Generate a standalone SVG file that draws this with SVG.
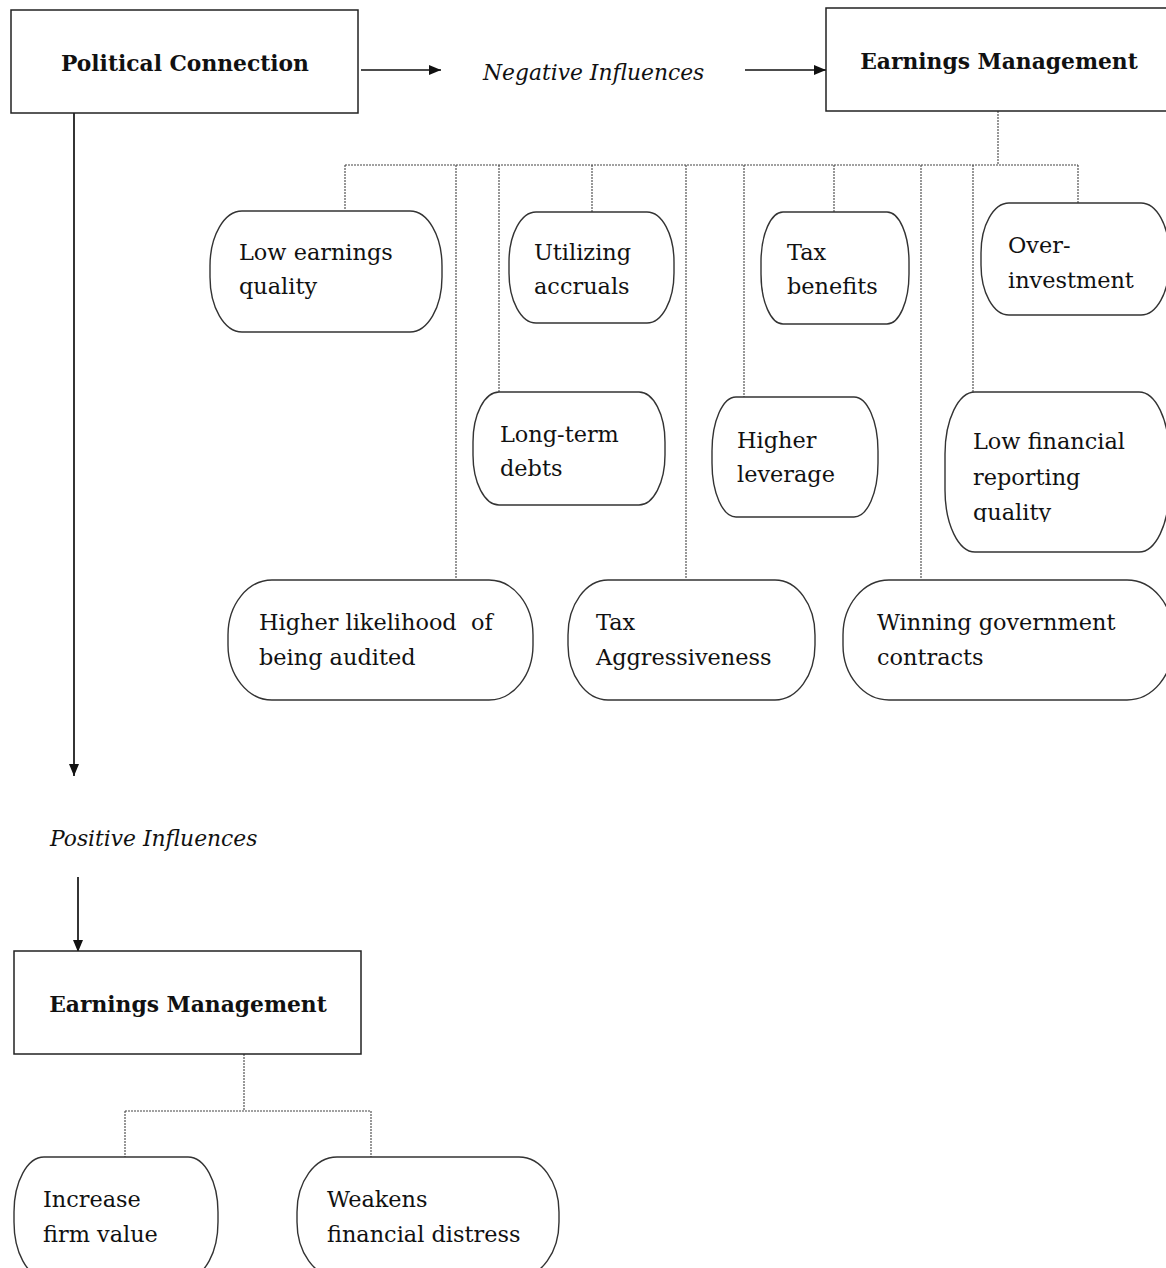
<svg xmlns="http://www.w3.org/2000/svg" width="1166" height="1268" viewBox="0 0 1166 1268">
<style>
.box{fill:#fff;stroke:#222;stroke-width:1.5}
.pill{fill:#fff;stroke:#333;stroke-width:1.4}
.title{font-family:"DejaVu Serif","Liberation Serif",serif;font-weight:bold;font-size:21.8px;fill:#111;text-anchor:middle}
.lbl{font-family:"DejaVu Serif","Liberation Serif",serif;font-size:22.4px;fill:#111}
.it{font-family:"DejaVu Serif","Liberation Serif",serif;font-style:italic;font-size:21.8px;fill:#111}
.dot{fill:none;stroke:#444;stroke-width:1.1;stroke-dasharray:2 1}
.arr{fill:none;stroke:#111;stroke-width:1.7}
</style>
<defs>
<marker id="ah" viewBox="0 0 12 10" refX="12" refY="5" markerWidth="12" markerHeight="10" markerUnits="userSpaceOnUse" orient="auto">
<path d="M0,0 L12,5 L0,10 z" fill="#111"/>
</marker>
<clipPath id="clipLF"><rect x="940" y="392" width="230" height="130"/></clipPath>
</defs>

<g id="connectors">
<line class="arr" x1="361" y1="70" x2="441" y2="70" marker-end="url(#ah)"/>
<line class="arr" x1="745" y1="70" x2="826" y2="70" marker-end="url(#ah)"/>
<line class="arr" x1="74" y1="113" x2="74" y2="776" marker-end="url(#ah)"/>
<line class="arr" x1="78" y1="877" x2="78" y2="952" marker-end="url(#ah)"/>
<path class="dot" d="M998,111 V165 M345,165 H1078 M345,165 V210 M456,165 V579 M499,165 V392 M592,165 V212 M686,165 V579 M744,165 V397 M834,165 V212 M921,165 V579 M973,165 V392 M1078,165 V203"/>
<path class="dot" d="M244,1054 V1111 M125,1111 H371 M125,1111 V1157 M371,1111 V1157"/>
</g>

<g id="political-connection">
<rect class="box" x="11" y="10" width="347" height="103"/>
<text class="title" x="185" y="71">Political Connection</text>
</g>

<g id="negative-influences">
<text class="it" x="483" y="80">Negative Influences</text>
</g>

<g id="earnings-management-top">
<rect class="box" x="826" y="8" width="350" height="103"/>
<text class="title" x="999" y="69">Earnings Management</text>
</g>

<g id="low-earnings-quality">
<rect class="pill" x="210" y="211" width="232" height="121" rx="32" ry="55"/>
<text class="lbl" x="239" y="260">Low earnings</text>
<text class="lbl" x="239" y="294">quality</text>
</g>

<g id="utilizing-accruals">
<rect class="pill" x="509" y="212" width="165" height="111" rx="27" ry="50"/>
<text class="lbl" x="534" y="260">Utilizing</text>
<text class="lbl" x="534" y="294">accruals</text>
</g>

<g id="tax-benefits">
<rect class="pill" x="761" y="212" width="148" height="112" rx="22" ry="50"/>
<text class="lbl" x="787" y="260">Tax</text>
<text class="lbl" x="787" y="294">benefits</text>
</g>

<g id="over-investment">
<rect class="pill" x="981" y="203" width="188" height="112" rx="28" ry="50"/>
<text class="lbl" x="1008" y="253">Over-</text>
<text class="lbl" x="1008" y="288">investment</text>
</g>

<g id="long-term-debts">
<rect class="pill" x="473" y="392" width="192" height="113" rx="26" ry="50"/>
<text class="lbl" x="500" y="442">Long-term</text>
<text class="lbl" x="500" y="476">debts</text>
</g>

<g id="higher-leverage">
<rect class="pill" x="712" y="397" width="166" height="120" rx="24" ry="54"/>
<text class="lbl" x="737" y="448">Higher</text>
<text class="lbl" x="737" y="482">leverage</text>
</g>

<g id="low-financial-reporting-quality">
<rect class="pill" x="945" y="392" width="224" height="160" rx="30" ry="62"/>
<g clip-path="url(#clipLF)">
<text class="lbl" x="973" y="449">Low financial</text>
<text class="lbl" x="973" y="485">reporting</text>
<text class="lbl" x="973" y="520">quality</text>
</g>
</g>

<g id="higher-likelihood-audited">
<rect class="pill" x="228" y="580" width="305" height="120" rx="44" ry="55"/>
<text class="lbl" x="259" y="630" xml:space="preserve" style="white-space:pre">Higher likelihood  of</text>
<text class="lbl" x="259" y="665">being audited</text>
</g>

<g id="tax-aggressiveness">
<rect class="pill" x="568" y="580" width="247" height="120" rx="40" ry="55"/>
<text class="lbl" x="596" y="630">Tax</text>
<text class="lbl" x="596" y="665">Aggressiveness</text>
</g>

<g id="winning-government-contracts">
<rect class="pill" x="843" y="580" width="330" height="120" rx="46" ry="55"/>
<text class="lbl" x="877" y="630">Winning government</text>
<text class="lbl" x="877" y="665">contracts</text>
</g>

<g id="positive-influences">
<text class="it" x="50" y="846">Positive Influences</text>
</g>

<g id="earnings-management-bottom">
<rect class="box" x="14" y="951" width="347" height="103"/>
<text class="title" x="188" y="1012">Earnings Management</text>
</g>

<g id="increase-firm-value">
<rect class="pill" x="14" y="1157" width="204" height="120" rx="30" ry="55"/>
<text class="lbl" x="43" y="1207">Increase</text>
<text class="lbl" x="43" y="1242">firm value</text>
</g>

<g id="weakens-financial-distress">
<rect class="pill" x="297" y="1157" width="262" height="120" rx="40" ry="55"/>
<text class="lbl" x="327" y="1207">Weakens</text>
<text class="lbl" x="327" y="1242">financial distress</text>
</g>
</svg>
